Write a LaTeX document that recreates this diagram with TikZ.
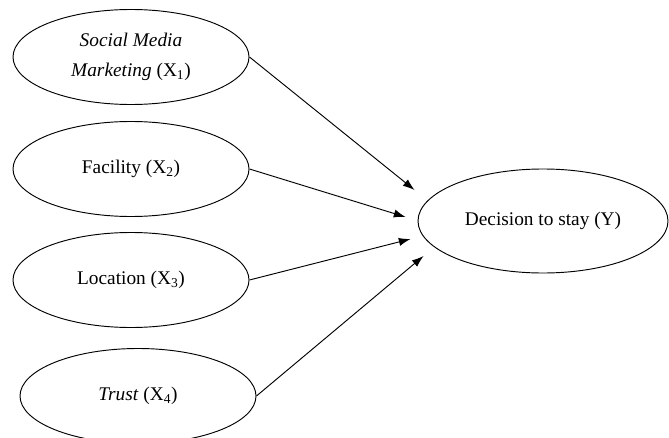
\documentclass[tikz,border=0pt]{standalone}
\usepackage{fontspec}
\setmainfont{Liberation Serif}
\usepackage{tikz}
\usetikzlibrary{arrows.meta}
\usetikzlibrary{shapes.geometric}
\usetikzlibrary{positioning}
\tikzset{
  % arrow tip for the paths
  >={Latex[length=10pt,width=7pt]},
  line/.style={draw, ->},
  construct/.style={draw, ellipse, minimum width=#1, minimum height=2.85cm, inner sep=0pt, align=center, font=\fontsize{16.5}{26}\selectfont},
  construct/.default=7.08cm
}

\begin{document}
\begin{tikzpicture}[node distance=3.36cm, line width=0.8pt]
    \useasboundingbox (0,0) rectangle (20.07,-13.14);

    % Place nodes
    \node [construct] (smm) at (3.93,-1.71) {\textit{Social Media}\\\textit{Marketing} (X\textsubscript{1})};
    \node [construct, below of=smm] (facility) {Facility (X\textsubscript{2})};
    \node [construct, below of=facility, node distance=3.33cm] (location) {Location (X\textsubscript{3})};
    \node [construct, below of=location, node distance=3.48cm, xshift=0.21cm] (trust) {\textit{Trust} (X\textsubscript{4})};
    \node [construct=7.5cm, minimum height=3.12cm] (stay) at (16.29,-6.63) {Decision to stay (Y)};

    % Arrow tips in front of the dependent variable
    \coordinate (t1) at ([shift={(-0.09,0.93)}]stay.west);
    \coordinate (t2) at ([shift={(-0.36,0.12)}]stay.west);
    \coordinate (t3) at ([shift={(-0.21,-0.54)}]stay.west);
    \coordinate (t4) at ([shift={(0.18,-1.05)}]stay.west);

    % Draw edges
    \path [line] (smm.east) -- (t1);
    \path [line] (facility.east) -- (t2);
    \path [line] (location.east) -- (t3);
    \path [line] (trust.east) -- (t4);

\end{tikzpicture}
\end{document}
